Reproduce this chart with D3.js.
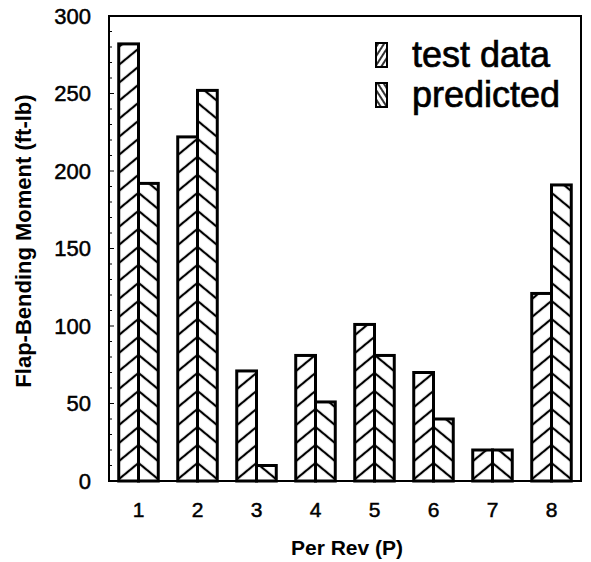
<!DOCTYPE html>
<html>
<head>
<meta charset="utf-8">
<script src="https://cdn.jsdelivr.net/npm/d3@7"></script>
<style>
  html, body { margin: 0; padding: 0; background: #fff; }
  svg { display: block; }
  text { font-family: "Liberation Sans", Arial, Helvetica, sans-serif; fill: #000; }
</style>
</head>
<body>
<svg id="chart" width="591" height="562"></svg>
<script>
// Flap-bending moment harmonics: measured vs. predicted
const perRev = ["1", "2", "3", "4", "5", "6", "7", "8"];
const testData = [282, 222, 71, 81, 101, 70, 20, 121];
const predicted = [192, 252, 10, 51, 81, 40, 20, 191];
const yTicks = [0, 50, 100, 150, 200, 250, 300];
const seriesNames = ["test data", "predicted"];

const plot = { left: 109, right: 581, top: 16, bottom: 481 };

const svg = d3.select("#chart");
const defs = svg.append("defs");

const x = d3.scaleBand()
  .domain(perRev)
  .range([plot.left, plot.right])
  .paddingInner(0.33)
  .paddingOuter(0.165);

const y = d3.scaleLinear().domain([0, 300]).range([plot.bottom, plot.top]);

const half = x.bandwidth() / 2;
const hatchAngle = 39.5;   // degrees from horizontal
const hatchGap = 13.9;     // perpendicular spacing of hatch lines

// One hatch pattern per bar, anchored at the group's centre line so the
// two hatches meet there as chevrons.
function hatchPattern(id, cx, cy, dir, gap, sw) {
  const p = defs.append("pattern")
    .attr("id", id)
    .attr("patternUnits", "userSpaceOnUse")
    .attr("width", 40)
    .attr("height", gap)
    .attr("patternTransform", `translate(${cx},${cy}) rotate(${dir * hatchAngle})`);
  p.append("rect")
    .attr("x", 0).attr("y", -sw / 2)
    .attr("width", 40).attr("height", sw)
    .attr("fill", "#000");
  p.append("rect")
    .attr("x", 0).attr("y", gap - sw / 2)
    .attr("width", 40).attr("height", sw)
    .attr("fill", "#000");
  return `url(#${id})`;
}

const groups = perRev.map((c, i) => ({
  cat: c, i,
  test: testData[i],
  pred: predicted[i],
  mid: x(c) + half
}));

groups.forEach(d => {
  d.fillT = hatchPattern(`hT${d.i}`, d.mid, plot.bottom, -1, hatchGap, 2.2);
  d.fillP = hatchPattern(`hP${d.i}`, d.mid, plot.bottom, 1, hatchGap, 2.2);
});

// bars
const g = svg.append("g");
g.selectAll("rect.test")
  .data(groups)
  .join("rect")
  .attr("class", "test")
  .attr("x", d => x(d.cat))
  .attr("y", d => y(d.test))
  .attr("width", half)
  .attr("height", d => y(0) - y(d.test))
  .attr("fill", d => d.fillT)
  .attr("stroke", "#000")
  .attr("stroke-width", 3);

g.selectAll("rect.pred")
  .data(groups)
  .join("rect")
  .attr("class", "pred")
  .attr("x", d => x(d.cat) + half)
  .attr("y", d => y(d.pred))
  .attr("width", half)
  .attr("height", d => y(0) - y(d.pred))
  .attr("fill", d => d.fillP)
  .attr("stroke", "#000")
  .attr("stroke-width", 3);

// frame
svg.append("rect")
  .attr("x", plot.left).attr("y", plot.top)
  .attr("width", plot.right - plot.left)
  .attr("height", plot.bottom - plot.top)
  .attr("fill", "none")
  .attr("stroke", "#000")
  .attr("stroke-width", 2);

// left axis: labels + inward ticks
const yAxis = d3.axisLeft(y)
  .tickValues(yTicks)
  .tickSize(0)
  .tickPadding(18);
const ya = svg.append("g")
  .attr("transform", `translate(${plot.left},0)`)
  .call(yAxis);
ya.select(".domain").remove();
ya.selectAll("text")
  .attr("font-size", 22)
  .attr("font-family", "Liberation Sans, Arial, sans-serif")
  .attr("fill", "#000")
  .attr("stroke", "#000")
  .attr("stroke-width", 0.5);

const minor = d3.range(0, 301, 10);
svg.append("g").selectAll("line")
  .data(minor)
  .join("line")
  .attr("x1", plot.left)
  .attr("x2", d => plot.left + (d % 50 === 0 ? 5 : 3))
  .attr("y1", d => y(d)).attr("y2", d => y(d))
  .attr("stroke", "#000")
  .attr("stroke-width", 1);

// bottom axis labels
const xAxis = d3.axisBottom(x).tickSize(0).tickPadding(21);
const xa = svg.append("g")
  .attr("transform", `translate(0,${plot.bottom})`)
  .call(xAxis);
xa.select(".domain").remove();
xa.selectAll("text")
  .attr("font-size", 21)
  .attr("font-family", "Liberation Sans, Arial, sans-serif")
  .attr("fill", "#000")
  .attr("stroke", "#000")
  .attr("stroke-width", 0.5);

// axis titles
svg.append("text")
  .attr("x", 347).attr("y", 555)
  .attr("text-anchor", "middle")
  .attr("font-size", 21)
  .attr("font-weight", "bold")
  .text("Per Rev (P)");

svg.append("text")
  .attr("transform", `translate(31,241) rotate(-90)`)
  .attr("text-anchor", "middle")
  .attr("font-size", 22)
  .attr("font-weight", "bold")
  .text("Flap-Bending Moment (ft-lb)");

// legend
const legend = svg.append("g");
const legY = [43, 83];
seriesNames.forEach((name, i) => {
  const dir = i === 0 ? -1 : 1;
  const fill = hatchPattern(`leg${i}`, 381, legY[i] + 24, dir * 1.45, 5, 1.6);
  legend.append("rect")
    .attr("x", 376).attr("y", legY[i])
    .attr("width", 11).attr("height", 24)
    .attr("fill", fill)
    .attr("stroke", "#000")
    .attr("stroke-width", 2);
  legend.append("text")
    .attr("x", 412).attr("y", legY[i] + 24)
    .attr("font-size", 36)
    .attr("stroke", "#000")
    .attr("stroke-width", 0.7)
    .text(name);
});
</script>
</body>
</html>
